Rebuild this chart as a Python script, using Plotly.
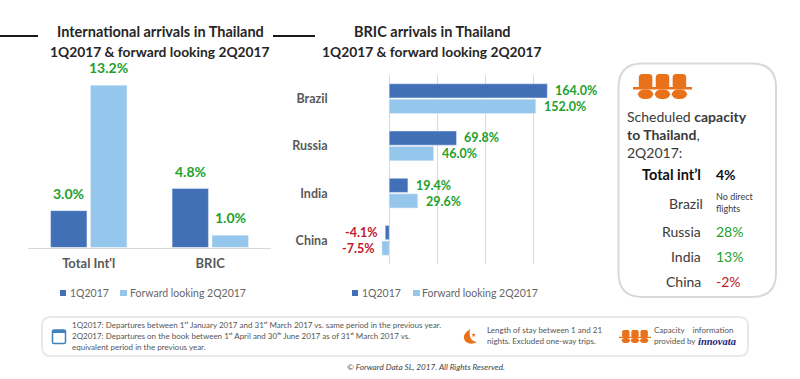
import plotly.graph_objects as go

W, H = 800, 379
FONT = "Lato"
DARK, LIGHT = "#4270b7", "#95c6eb"
GREEN, RED = "#22a02c", "#c0182c"
ORANGE = "#e8711a"

SERIES = ["1Q2017", "Forward looking 2Q2017"]
intl_cats = ["Total Int'l", "BRIC"]
intl_q1 = [3.0, 4.8]
intl_q2 = [13.2, 1.0]
bric_cats = ["Brazil", "Russia", "India", "China"]
bric_q1 = [164.0, 69.8, 19.4, -4.1]
bric_q2 = [152.0, 46.0, 29.6, -7.5]
cap_names = ["Russia", "India", "China"]
cap_values = [28, 13, -2]
cap_total = 4


def px(x):
    return x / W


def py(y):
    return 1 - y / H


def pct(v):
    return f"{v:.1f}%"


def col(v):
    return GREEN if v >= 0 else RED


fig = go.Figure()
for name, vals, c in [(SERIES[0], intl_q1, DARK), (SERIES[1], intl_q2, LIGHT)]:
    fig.add_bar(x=intl_cats, y=vals, name=name, marker_color=c, xaxis="x", yaxis="y",
                showlegend=False, hoverinfo="skip")
for name, vals, c in [(SERIES[0], bric_q1, DARK), (SERIES[1], bric_q2, LIGHT)]:
    fig.add_bar(y=bric_cats, x=vals, name=name, orientation="h", marker_color=c,
                xaxis="x2", yaxis="y2", showlegend=False, hoverinfo="skip")

annots = []
shapes = []


def text(x, y, s, size=12, color="#404040", anchor="left", bold=False, italic=False, family=FONT):
    if bold:
        s = f"<b>{s}</b>"
    if italic:
        s = f"<i>{s}</i>"
    annots.append(dict(x=px(x), y=py(y), xref="paper", yref="paper", text=s, showarrow=False,
                       xanchor=anchor, yanchor="middle", align=anchor,
                       font=dict(family=family, size=size, color=color)))


# data labels, left chart
for i, cat in enumerate(intl_cats):
    for vals, dx in ((intl_q1, -20), (intl_q2, 20)):
        annots.append(dict(x=cat, y=vals[i], xref="x", yref="y", text=f"<b>{pct(vals[i])}</b>",
                           showarrow=False, xshift=dx, yshift=7, yanchor="bottom", xanchor="center",
                           font=dict(family=FONT, size=14, color=col(vals[i]))))
# data labels, right chart
for i, cat in enumerate(bric_cats):
    for vals, dy in ((bric_q1, 8), (bric_q2, -8)):
        v = vals[i]
        annots.append(dict(x=v, y=cat, xref="x2", yref="y2", text=f"<b>{pct(v)}</b>", showarrow=False,
                           xshift=6 if v >= 0 else -6, yshift=dy, yanchor="middle",
                           xanchor="left" if v >= 0 else "right",
                           font=dict(family=FONT, size=12.5, color=col(v))))

# titles
text(160, 31.5, "International arrivals in Thailand", 14.5, "#262626", "center", True)
text(160, 51, "1Q2017 &amp; forward looking 2Q2017", 13.8, "#262626", "center", True)
text(432, 31.5, "BRIC arrivals in Thailand", 14.5, "#262626", "center", True)
text(432, 51, "1Q2017 &amp; forward looking 2Q2017", 13.8, "#262626", "center", True)


def rect(x0, y0, x1, y1, fill, line=None, lw=0):
    shapes.append(dict(type="rect", xref="paper", yref="paper", x0=px(x0), x1=px(x1), y0=py(y0), y1=py(y1),
                       fillcolor=fill, line=dict(color=line or fill, width=lw)))


def rrect_path(x0, y0, x1, y1, r):
    a, b, c, d = px(x0), px(x1), py(y0), py(y1)
    rx, ry = r / W, r / H
    return (f"M{a+rx},{c} L{b-rx},{c} Q{b},{c} {b},{c-ry} L{b},{d+ry} Q{b},{d} {b-rx},{d} "
            f"L{a+rx},{d} Q{a},{d} {a},{d+ry} L{a},{c-ry} Q{a},{c} {a+rx},{c} Z")


def rrect(x0, y0, x1, y1, r, fill="rgba(0,0,0,0)", line=None, lw=0):
    shapes.append(dict(type="path", xref="paper", yref="paper", path=rrect_path(x0, y0, x1, y1, r),
                       fillcolor=fill, line=dict(color=line or "rgba(0,0,0,0)", width=lw)))


def seats(x0, y0, x1, y1):
    w = x1 - x0
    h = y1 - y0
    inner = w * 0.86
    start = x0 + w * 0.07
    sw = inner / 3
    for k in range(3):
        sx = start + k * sw
        rrect(sx + sw * 0.1, y0, sx + sw * 0.9, y0 + h * 0.6, h * 0.14, ORANGE)
        rrect(sx + sw * 0.04, y0 + h * 0.62, sx + sw * 0.96, y1, h * 0.26, ORANGE)
    rect(x0, y0 + h * 0.52, x1, y0 + h * 0.62, ORANGE)


# header rules
rect(0, 35, 38, 37, "#1a1a1a")
rect(273, 35, 315, 37, "#1a1a1a")

# legends
for sq0, tx0, sq1, tx1 in ((60, 68, 120, 128), (352, 360, 413, 420)):
    rect(sq0, 290, sq0 + 6, 296, DARK)
    text(tx0, 293, SERIES[0], 10.5, "#666666")
    rect(sq1, 290, sq1 + 7, 296, LIGHT)
    text(tx1, 293, SERIES[1], 10.5, "#666666")

# capacity panel
rrect(618.5, 63.5, 776, 297, 24, "#ffffff", "#d9d9d9", 2)
seats(633, 74, 692, 99)
annots.append(dict(x=px(625), y=py(134), xref="paper", yref="paper", xanchor="left", yanchor="middle",
                   align="left", showarrow=False,
                   text="Scheduled <b>capacity<br>to Thailand</b>,<br>2Q2017:",
                   font=dict(family=FONT, size=14, color="#3a3a3a")))
text(703, 174, "Total int’l", 14.5, "#111111", "right", True)
text(714, 174, f"{cap_total}%", 14, "#111111", "left", True)
text(705, 203, "Brazil", 14, "#3a3a3a", "right")
annots.append(dict(x=px(714), y=py(202), xref="paper", yref="paper", xanchor="left", yanchor="middle",
                   align="left", showarrow=False, text="No direct<br>flights",
                   font=dict(family=FONT, size=9, color="#3a3a3a")))
for name, v, y in zip(cap_names, cap_values, (231, 256, 281)):
    text(703, y, name, 14, "#3a3a3a", "right")
    text(714, y, f"{v}%", 14, GREEN if v >= 0 else RED, "left")

# footer box
rrect(42, 317, 748, 356, 9, "#ffffff", "#e8e8e8", 2)
rrect(52.5, 330, 65.5, 343.5, 1.5, "#ffffff", "#3f82bd", 1.5)
rect(52.5, 330, 65.5, 333, "#3f82bd")
F = "#555555"
text(70, 325, "1Q2017: Departures between 1ˢᵗ January 2017 and 31ˢᵗ March 2017 vs. same period in the previous year.", 8, F)
text(70, 336, "2Q2017: Departures on the book between 1ˢᵗ April and 30ᵗʰ June 2017 as of 31ˢᵗ March 2017 vs.", 8, F)
text(70, 347, "equivalent period in the previous year.", 8, F)
# moon
a = lambda x, y: f"{px(x)},{py(y)}"
shapes.append(dict(type="path", xref="paper", yref="paper", fillcolor=ORANGE, line=dict(width=0),
                   path=f"M{a(470,329)} Q{a(461,335)} {a(465,341)} Q{a(470,346)} {a(477,342)} "
                        f"Q{a(468,341)} {a(470,329)} Z"))
text(473.5, 334, "★", 6, ORANGE, "center")
text(485, 330, "Length of stay between 1 and 21", 8, F)
text(485, 341, "nights. Excluded one-way trips.", 8, F)
seats(619, 330, 651, 343)
text(652, 330, "Capacity    information", 8, F)
text(652, 341, "provided by", 8, F)
text(696, 341, "innovata", 10.5, "#1d1d7a", "left", True, True, "Liberation Serif")
text(426, 367, "© Forward Data SL, 2017. All Rights Reserved.", 8.2, "#444444", "center", False, True)

axis_line = "#d9d9d9"
fig.update_layout(
    width=W, height=H, autosize=False, margin=dict(l=0, r=0, t=0, b=0),
    paper_bgcolor="#ffffff", plot_bgcolor="rgba(0,0,0,0)", showlegend=False,
    barmode="group", bargap=0.342, bargroupgap=0.09,
    font=dict(family=FONT, color="#595959"),
    annotations=annots, shapes=shapes,
    xaxis=dict(domain=[px(28), px(271)], anchor="y", showgrid=False, showline=True, linecolor=axis_line,
               linewidth=1, ticks="outside", ticklen=4, tickcolor="rgba(0,0,0,0)",
               tickfont=dict(family=FONT, size=13, color="#595959", weight="bold"),
               fixedrange=True),
    yaxis=dict(domain=[py(247.5), py(73)], anchor="x", range=[0, 14.2], visible=False, fixedrange=True),
    xaxis2=dict(domain=[px(341), px(582)], anchor="y2", range=[-50, 200], dtick=50, tick0=-50, showgrid=True,
                gridcolor=axis_line, gridwidth=1, zeroline=True, zerolinecolor=axis_line, zerolinewidth=1,
                showticklabels=False, ticks="", fixedrange=True),
    yaxis2=dict(domain=[py(264), py(75)], anchor="x2", autorange="reversed", showgrid=False, zeroline=False,
                ticks="outside", ticklen=10, tickcolor="rgba(0,0,0,0)", showline=False,
                tickfont=dict(family=FONT, size=12.5, color="#595959", weight="bold"), fixedrange=True),
)

fig.write_html("out.html", config={"displayModeBar": False},
               post_script="document.body.style.margin='0';document.body.style.overflow='hidden';")
